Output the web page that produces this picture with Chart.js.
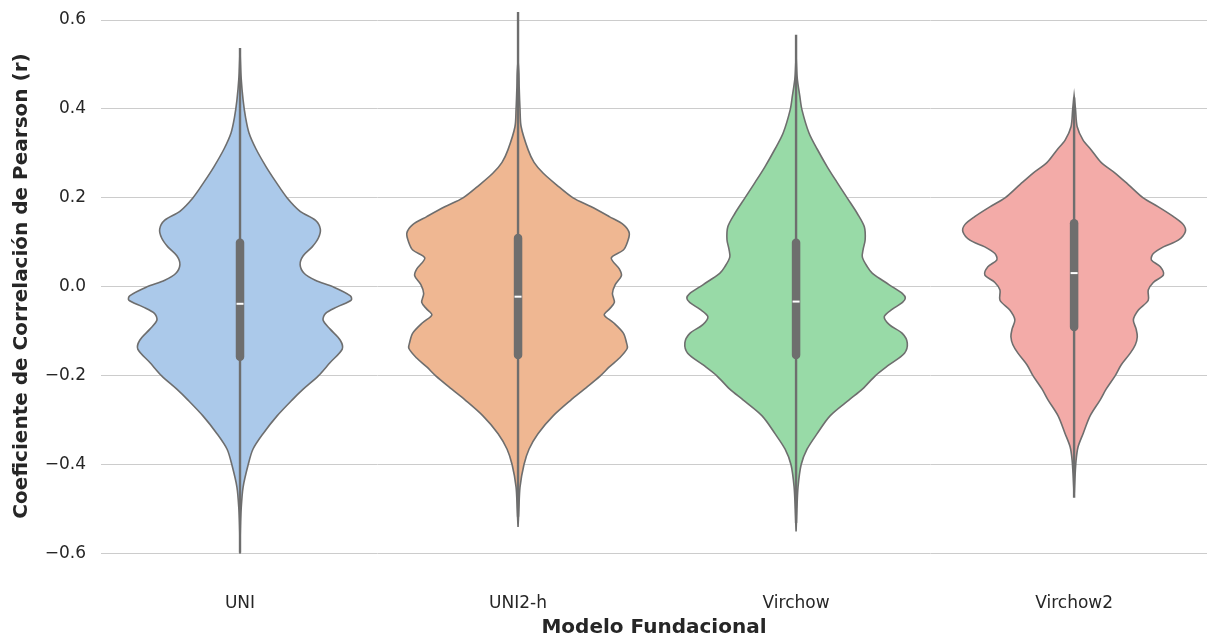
<!DOCTYPE html>
<html>
<head>
<meta charset="utf-8">
<title>Coeficiente de Correlación de Pearson por modelo</title>
<script src="https://cdn.jsdelivr.net/npm/chart.js@4.4.1/dist/chart.umd.min.js"></script>
<style>
  html, body { margin: 0; padding: 0; background: #ffffff; }
  canvas { display: block; }
</style>
</head>
<body>
<canvas id="chart" width="1207" height="640"></canvas>
<script>
// Foundation models on the x axis
const models = ['UNI', 'UNI2-h', 'Virchow', 'Virchow2'];
const yTicks = [-0.6, -0.4, -0.2, 0.0, 0.2, 0.4, 0.6];

// Kernel density estimate of Pearson r for each model (r value -> density)
const uniR = [-0.60,-0.55,-0.50,-0.45,-0.40,-0.365,-0.33,-0.29,-0.254,-0.23,-0.20,-0.17,-0.14,-0.12,-0.095,-0.075,-0.06,-0.045,-0.03,-0.02,0.00,0.015,0.03,0.05,0.07,0.09,0.11,0.13,0.15,0.17,0.20,0.235,0.27,0.31,0.346,0.38,0.42,0.47,0.53];
const uniDensity = [0,0.01,0.04,0.11,0.29,0.46,0.82,1.32,1.86,2.25,2.79,3.21,3.64,3.57,3.21,2.96,3.04,3.46,3.96,3.93,3.32,2.68,2.29,2.14,2.25,2.57,2.79,2.86,2.68,2.14,1.68,1.29,0.93,0.57,0.32,0.2,0.11,0.04,0];

const uni2hR = [-0.54,-0.50,-0.45,-0.40,-0.365,-0.33,-0.29,-0.254,-0.23,-0.20,-0.18,-0.16,-0.138,-0.125,-0.104,-0.08,-0.063,-0.05,-0.035,-0.015,0.005,0.025,0.04,0.065,0.083,0.10,0.121,0.14,0.158,0.18,0.20,0.23,0.256,0.28,0.308,0.36,0.40,0.45,0.48,0.51];
const uni2hDensity = [0,0.03,0.07,0.21,0.39,0.71,1.25,1.89,2.36,2.93,3.25,3.61,3.89,3.86,3.75,3.39,3.07,3.25,3.43,3.36,3.46,3.68,3.61,3.32,3.75,3.89,3.96,3.75,3.25,2.61,1.96,1.36,0.89,0.57,0.36,0.11,0.07,0.04,0.03,0];

const virchowR = [-0.55,-0.50,-0.45,-0.40,-0.365,-0.33,-0.29,-0.254,-0.23,-0.20,-0.175,-0.149,-0.126,-0.105,-0.085,-0.067,-0.05,-0.035,-0.025,-0.015,0.0,0.015,0.031,0.045,0.067,0.085,0.106,0.135,0.165,0.20,0.235,0.27,0.31,0.346,0.398,0.43,0.47,0.52];
const virchowDensity = [0,0.03,0.07,0.18,0.39,0.75,1.21,1.89,2.36,2.82,3.32,3.86,3.96,3.79,3.32,3.14,3.43,3.79,3.89,3.79,3.43,3.07,2.71,2.54,2.36,2.39,2.46,2.43,2.18,1.82,1.46,1.11,0.75,0.46,0.21,0.13,0.04,0];

const virchow2R = [-0.47,-0.43,-0.39,-0.36,-0.33,-0.29,-0.254,-0.23,-0.20,-0.175,-0.149,-0.13,-0.112,-0.095,-0.074,-0.052,-0.03,-0.007,0.01,0.027,0.045,0.061,0.075,0.09,0.105,0.124,0.14,0.158,0.18,0.20,0.23,0.256,0.28,0.308,0.33,0.36,0.40,0.43];
const virchow2Density = [0,0.03,0.07,0.14,0.32,0.57,0.93,1.14,1.46,1.68,2.0,2.18,2.25,2.21,2.11,2.29,2.64,2.64,2.82,3.18,3.07,2.75,2.82,3.18,3.71,3.96,3.89,3.54,3.0,2.46,1.93,1.46,0.96,0.61,0.32,0.11,0.05,0];

// Box summary for each model
const q1 = [-0.157, -0.153, -0.153, -0.090];
const medians = [-0.038, -0.022, -0.033, 0.031];
const q3 = [0.099, 0.110, 0.099, 0.143];
const whiskerLow = [-0.598, -0.517, -0.531, -0.474];
const whiskerHigh = [0.537, 0.618, 0.567, 0.426];

const rGrids = [uniR, uni2hR, virchowR, virchow2R];
const densities = [uniDensity, uni2hDensity, virchowDensity, virchow2Density];

const fillColors = ['#abc9ea', '#efb792', '#98daa7', '#f3aba8'];
const lineGray = '#6e6e6e';
const textColor = '#262626';
const halfWidth = 0.4;   // half of the violin width, in category units

const maxDensity = Math.max(...densities.map(d => Math.max(...d)));

// Closed outline: right side bottom -> top, then left side top -> bottom
function outline(i) {
  const r = rGrids[i], d = densities[i];
  const pts = [];
  for (let k = 0; k < r.length; k++) pts.push({ x: i + d[k] / maxDensity * halfWidth, y: r[k] });
  for (let k = r.length - 1; k >= 0; k--) pts.push({ x: i - d[k] / maxDensity * halfWidth, y: r[k] });
  return pts;
}

const datasets = [];
models.forEach((m, i) => {
  datasets.push({
    label: m,
    data: outline(i),
    showLine: true,
    fill: 'shape',
    backgroundColor: fillColors[i],
    borderColor: lineGray,
    borderWidth: 1.6,
    tension: 0.3,
    pointRadius: 0,
    order: 4
  });
  datasets.push({
    label: m + ' bigotes',
    data: [{ x: i, y: whiskerLow[i] }, { x: i, y: whiskerHigh[i] }],
    showLine: true,
    borderColor: lineGray,
    borderWidth: 2.4,
    pointRadius: 0,
    fill: false,
    order: 3
  });
  datasets.push({
    label: m + ' caja',
    data: [{ x: i, y: q1[i] }, { x: i, y: q3[i] }],
    showLine: true,
    borderColor: lineGray,
    borderWidth: 8.5,
    borderCapStyle: 'round',
    pointRadius: 0,
    fill: false,
    order: 2
  });
  datasets.push({
    label: m + ' mediana',
    data: [{ x: i, y: medians[i] }],
    showLine: false,
    pointStyle: 'line',
    pointRadius: 3.5,
    pointBorderWidth: 2,
    pointBorderColor: '#ffffff',
    pointBackgroundColor: '#ffffff',
    order: 1
  });
});

const fmt = v => {
  if (Math.abs(v) < 1e-9) return '0.0';
  const s = Math.abs(v).toFixed(1);
  return v < 0 ? '\u2212' + s : s;
};

new Chart(document.getElementById('chart'), {
  type: 'scatter',
  data: { datasets },
  options: {
    responsive: false,
    animation: false,
    devicePixelRatio: 1,
    events: [],
    layout: { padding: 0, autoPadding: false },
    plugins: {
      legend: { display: false },
      tooltip: { enabled: false },
      title: { display: false }
    },
    scales: {
      x: {
        type: 'linear',
        min: -0.5,
        max: 3.478,
        grid: { display: false, drawTicks: false },
        border: { display: false },
        afterBuildTicks: s => { s.ticks = models.map((_, i) => ({ value: i })); },
        afterFit: s => { s.height = 68; s.paddingLeft = 0; s.paddingRight = 0; },
        ticks: {
          padding: 21,
          color: textColor,
          font: { family: 'DejaVu Sans', size: 17 },
          callback: v => models[v]
        },
        title: {
          display: true,
          text: 'Modelo Fundacional',
          color: textColor,
          font: { family: 'DejaVu Sans', size: 20, weight: 'bold' },
          padding: { top: 0, bottom: 0 }
        }
      },
      y: {
        type: 'linear',
        min: -0.641,
        max: 0.645,
        grid: { color: '#cccccc', lineWidth: 1, drawTicks: false },
        border: { display: false },
        afterBuildTicks: s => { s.ticks = yTicks.map(v => ({ value: v })); },
        afterFit: s => { s.width = 101; s.paddingTop = 0; s.paddingBottom = 0; },
        ticks: {
          padding: 15,
          color: textColor,
          font: { family: 'DejaVu Sans', size: 17 },
          callback: v => fmt(v)
        },
        title: {
          display: true,
          text: 'Coeficiente de Correlación de Pearson (r)',
          color: textColor,
          font: { family: 'DejaVu Sans', size: 20, weight: 'bold' },
          padding: { top: 10, bottom: 0 }
        }
      }
    }
  }
});
</script>
</body>
</html>
